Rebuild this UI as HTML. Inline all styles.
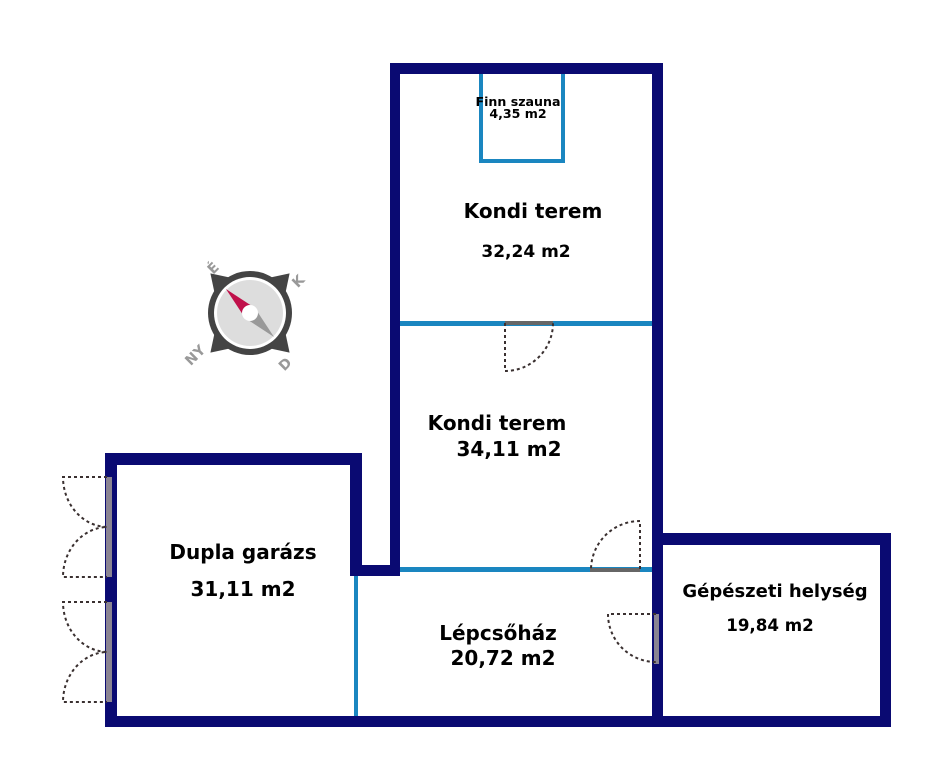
<!DOCTYPE html>
<html><head><meta charset="utf-8"><style>
html,body{margin:0;padding:0;background:#fff;}
svg{display:block;}
text{font-family:"DejaVu Sans","Liberation Sans",sans-serif;font-weight:bold;fill:#000;text-anchor:middle;}
</style></head><body>
<svg width="926" height="768" viewBox="0 0 926 768" xmlns="http://www.w3.org/2000/svg">
<rect width="926" height="768" fill="#fff"/>
<g fill="#1a86c0">
<rect x="400" y="321" width="252" height="5"/>
<rect x="400" y="567" width="252" height="5"/>
<rect x="354" y="576" width="4" height="141"/>
<rect x="479" y="70" width="4" height="93"/>
<rect x="561" y="70" width="4" height="93"/>
<rect x="479" y="159" width="86" height="4"/>
</g>
<g fill="#0a0a72">
<rect x="390" y="63" width="273" height="11"/>
<rect x="390" y="63" width="10" height="513"/>
<rect x="652" y="63" width="11" height="664"/>
<rect x="350" y="565" width="50" height="11"/>
<rect x="105" y="453" width="257" height="12"/>
<rect x="350" y="453" width="12" height="123"/>
<rect x="105" y="453" width="12" height="274"/>
<rect x="105" y="716" width="786" height="11"/>
<rect x="652" y="533" width="239" height="12"/>
<rect x="880" y="533" width="11" height="194"/>
</g>
<g fill="#8a8492">
<rect x="106" y="477" width="6" height="100"/>
<rect x="106" y="602" width="6" height="100"/>
<rect x="654" y="614" width="5" height="50"/>
</g>
<g fill="#666">
<rect x="505" y="321" width="48" height="4"/>
<rect x="590" y="568" width="50" height="4"/>
</g>
<g fill="none" stroke="#3a3030" stroke-width="2" stroke-dasharray="3,3">
<path d="M505 323 V371 A48 48 0 0 0 553 323"/>
<path d="M640 569 V521 A49 49 0 0 0 591 569"/>
<path d="M656 614 H608 A48 48 0 0 0 656 662"/>
<path d="M107 477 H63 A45 50 0 0 0 107 527 A45 50 0 0 0 63 577 H107"/>
<path d="M107 602 H63 A45 50 0 0 0 107 652 A45 50 0 0 0 63 702 H107"/>
</g>
<g transform="translate(250 313)">
<g fill="#444" transform="rotate(45)">
<polygon points="-13,-36 0,-56 13,-36"/>
<polygon points="-13,36 0,56 13,36"/>
<polygon points="-36,-13 -56,0 -36,13"/>
<polygon points="36,-13 56,0 36,13"/>
</g>
<circle r="42" fill="#444"/>
<circle r="36" fill="#fff"/>
<circle r="33" fill="#ddd"/>
<g transform="rotate(-45)">
<polygon points="-7,0 0,-34 7,0" fill="#c0104a"/>
<polygon points="-7,0 0,34 7,0" fill="#999"/>
</g>
<circle r="8" fill="#fff"/>
</g>
<text x="213" y="273" transform="rotate(-45 213 268)" style="fill:#999;font-size:14px">É</text>
<text x="298" y="286" transform="rotate(-45 298 281)" style="fill:#999;font-size:14px">K</text>
<text x="195" y="360" transform="rotate(-45 195 355)" style="fill:#999;font-size:14px">NY</text>
<text x="285" y="369" transform="rotate(-45 285 364)" style="fill:#999;font-size:14px">D</text>
<text x="518" y="106" style="font-size:12.6px">Finn szauna</text>
<text x="518" y="118" style="font-size:12.6px">4,35 m2</text>
<text x="533" y="218" style="font-size:20px">Kondi terem</text>
<text x="526" y="257" style="font-size:17px">32,24 m2</text>
<text x="497" y="430" style="font-size:20px">Kondi terem</text>
<text x="509" y="456" style="font-size:20px">34,11 m2</text>
<text x="243" y="559" style="font-size:20px">Dupla garázs</text>
<text x="243" y="596" style="font-size:20px">31,11 m2</text>
<text x="498" y="640" style="font-size:20px">Lépcsőház</text>
<text x="503" y="665" style="font-size:20px">20,72 m2</text>
<text x="775" y="597" style="font-size:18px">Gépészeti helység</text>
<text x="770" y="631" style="font-size:16.7px">19,84 m2</text>
</svg>
</body></html>
